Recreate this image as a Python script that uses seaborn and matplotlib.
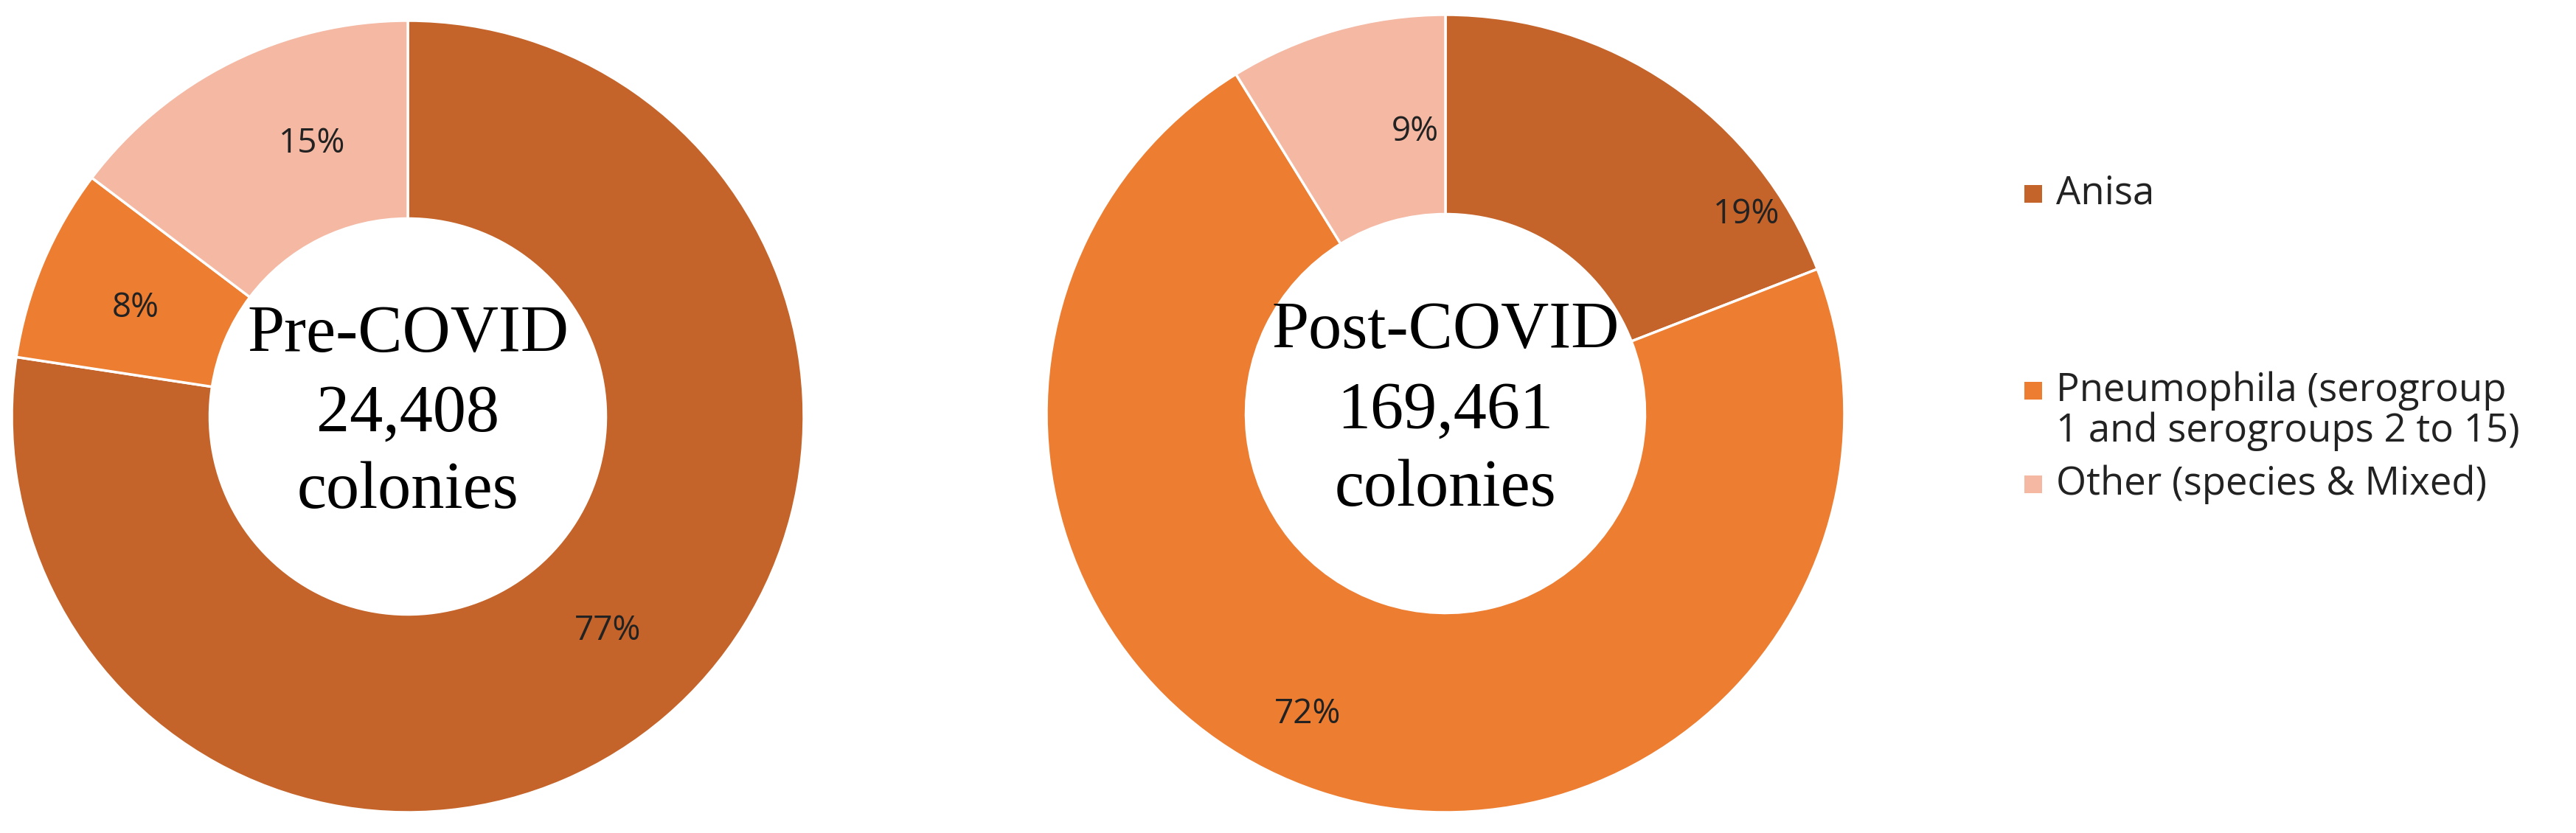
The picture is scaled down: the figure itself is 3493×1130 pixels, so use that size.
import matplotlib
matplotlib.use("Agg")
import numpy as np
import matplotlib.pyplot as plt
from matplotlib.patches import Rectangle
import seaborn as sns

sns.set_theme(style="white")
plt.rcParams['font.family'] = ['Open Sans', 'DejaVu Sans']

categories = ["Anisa", "Pneumophila (serogroup\n1 and serogroups 2 to 15)", "Other (species & Mixed)"]
pre_values = [77.4, 7.9, 14.7]
post_values = [19.1, 72.1, 8.8]
pre_center = ["Pre-COVID", "24,408", "colonies"]
post_center = ["Post-COVID", "169,461", "colonies"]
colors = ["#C4642A", "#ED7D31", "#F4B8A3"]

# label placement (polar: angle in degrees, radius fraction) as Excel placed them
pre_label_pos = [(-47, 0.74), (158.3, 0.74), (109.3, 0.73)]
post_label_pos = [(33.5, 0.905), (245.4, 0.83), (96.2, 0.71)]

W, H = 3493, 1130
fig = plt.figure(figsize=(W / 100, H / 100), dpi=100)
fig.patch.set_facecolor("white")


def donut(cx, cy, r, values, center_lines, label_pos):
    ax = fig.add_axes([(cx - r) / W, (H - cy - r) / H, 2 * r / W, 2 * r / H])
    wedges, texts, autotexts = ax.pie(
        values, colors=colors, startangle=90, counterclock=False,
        radius=1.0, autopct=lambda p: f"{p:.0f}%", pctdistance=0.75,
        wedgeprops=dict(width=0.5, edgecolor="white", linewidth=2.5),
        textprops=dict(fontsize=33, color="#222222"))
    for t, (ang, rr) in zip(autotexts, label_pos):
        a = np.deg2rad(ang)
        t.set_position((rr * np.cos(a), rr * np.sin(a)))
    ax.set_xlim(-1.0, 1.0)
    ax.set_ylim(-1.0, 1.0)
    ax.set_aspect("equal")
    ax.axis("off")
    ys = [0.205, 0.005, -0.19]
    for yv, line in zip(ys, center_lines):
        ax.text(0, yv, line, ha="center", va="center",
                fontsize=65, family=["Liberation Serif", "DejaVu Serif"], color="black")
    return ax


donut(553, 565, 537, pre_values, pre_center, pre_label_pos)
donut(1960, 561, 541, post_values, post_center, post_label_pos)

# legend
sq = 24
legend_rows = [(263, ["Anisa"]),
               (530, ["Pneumophila (serogroup", "1 and serogroups 2 to 15)"]),
               (657, ["Other (species & Mixed)"])]
for (y, lines), col in zip(legend_rows, colors):
    fig.patches.append(Rectangle((2745 / W, (H - y - sq / 2) / H), sq / W, sq / H,
                                 transform=fig.transFigure, facecolor=col, edgecolor="none"))
    for j, t in enumerate(lines):
        fig.text(2788 / W, (H - y - j * 55) / H, t, ha="left", va="center",
                 fontsize=38, color="#222222")

fig.savefig("out.png", dpi=100, facecolor="white")
